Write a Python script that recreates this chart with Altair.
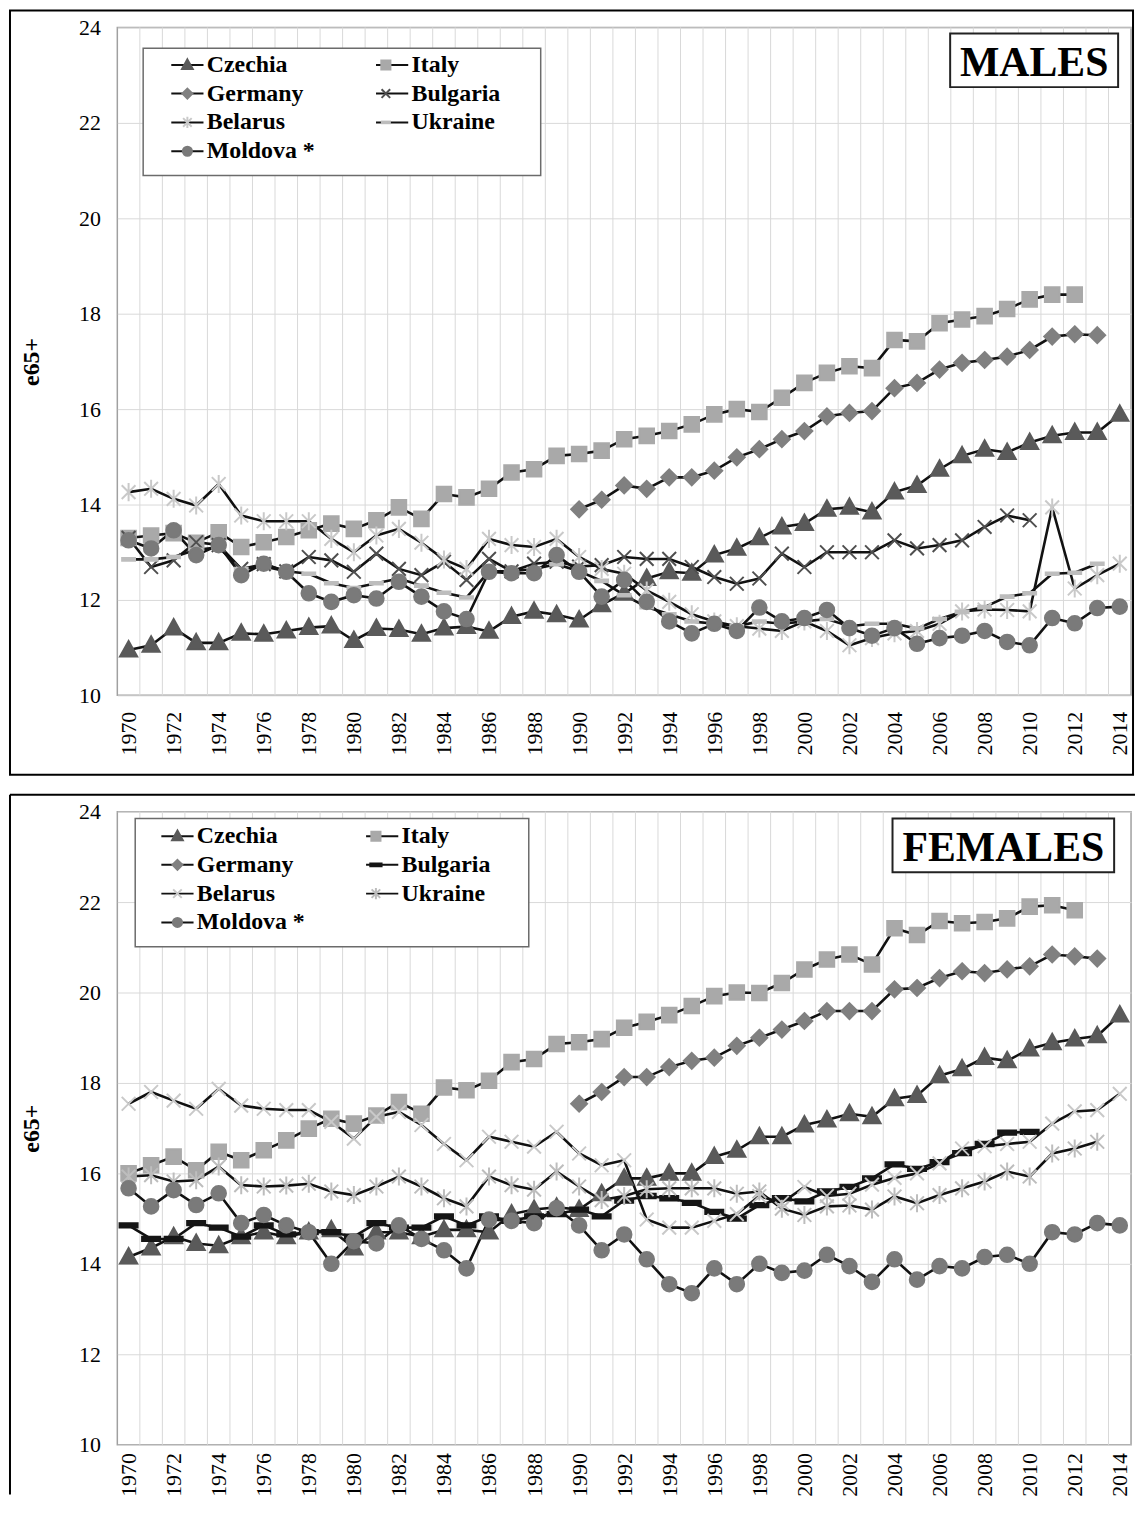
import altair as alt
import pandas as pd

FONT = "Liberation Serif"
SERIES = ["Czechia", "Italy", "Germany", "Bulgaria", "Belarus", "Ukraine", "Moldova *"]
# legend entries fill column by column: left column first, then right column
LEGEND_ORDER = ["Czechia", "Germany", "Belarus", "Moldova *", "Italy", "Bulgaria", "Ukraine"]
Y_TICKS = [10, 12, 14, 16, 18, 20, 22, 24]
X_LABEL_YEARS = list(range(1970, 2015, 2))
GRID_BOUNDS = [y - 0.5 for y in range(1971, 2015)]

# ---------------- MALES (e65+) ----------------
male_start = {"Czechia": 1970, "Italy": 1970, "Germany": 1990, "Bulgaria": 1970,
              "Belarus": 1970, "Ukraine": 1970, "Moldova *": 1970}
male_czechia = [10.95, 11.05, 11.41, 11.1, 11.1, 11.3, 11.28, 11.35, 11.42, 11.45,
                11.15, 11.4, 11.38, 11.28, 11.41, 11.44, 11.34, 11.65, 11.76, 11.69,
                11.58, 11.9, 12.14, 12.45, 12.59, 12.56, 12.94, 13.08, 13.3, 13.53,
                13.6, 13.9, 13.94, 13.84, 14.26, 14.4, 14.74, 15.02, 15.16, 15.09,
                15.3, 15.44, 15.51, 15.51, 15.89]
male_italy = [13.3, 13.35, 13.4, 13.2, 13.42, 13.11, 13.21, 13.32, 13.46, 13.6,
              13.49, 13.67, 13.94, 13.7, 14.22, 14.15, 14.33, 14.67, 14.74, 15.02,
              15.06, 15.13, 15.37, 15.44, 15.54, 15.68, 15.89, 16.0, 15.94, 16.24,
              16.55, 16.76, 16.9, 16.86, 17.45, 17.42, 17.8, 17.88, 17.95, 18.1,
              18.3, 18.4, 18.4]
male_germany = [13.9, 14.1, 14.4, 14.33, 14.57, 14.57, 14.71, 14.99, 15.16, 15.37,
                15.54, 15.85, 15.92, 15.96, 16.44, 16.55, 16.83, 16.97, 17.03, 17.1,
                17.24, 17.52, 17.57, 17.55]
male_bulgaria = [13.3, 12.69, 12.83, 13.21, 13.15, 12.65, 12.75, 12.6, 12.9, 12.83,
                 12.59, 12.97, 12.65, 12.52, 12.8, 12.42, 12.86, 12.6, 12.76, 12.8,
                 12.7, 12.73, 12.9, 12.86, 12.86, 12.69, 12.48, 12.34, 12.45, 12.97,
                 12.69, 13.0, 13.0, 13.0, 13.25, 13.08, 13.15, 13.25, 13.53, 13.77,
                 13.67]
male_belarus = [14.26, 14.33, 14.12, 13.98, 14.43, 13.77, 13.65, 13.65, 13.65, 13.28,
                13.0, 13.35, 13.49, 13.2, 12.85, 12.65, 13.28, 13.15, 13.11, 13.28,
                12.9, 12.65, 12.55, 12.2, 11.96, 11.7, 11.55, 11.45, 11.4, 11.35,
                11.55, 11.35, 11.05, 11.2, 11.3, 11.35, 11.5, 11.76, 11.8, 11.79,
                11.76, 13.94, 12.24, 12.52, 12.76]
male_ukraine = [12.85, 12.85, 12.9, 13.05, 13.1, 12.65, 12.7, 12.6, 12.55, 12.35,
                12.25, 12.35, 12.45, 12.3, 12.15, 12.05, 12.6, 12.6, 12.65, 12.75,
                12.6, 12.4, 12.1, 11.85, 11.7, 11.55, 11.5, 11.45, 11.55, 11.5,
                11.55, 11.6, 11.45, 11.5, 11.5, 11.4, 11.6, 11.75, 11.85, 12.07,
                12.14, 12.55, 12.57, 12.76]
male_moldova = [13.25, 13.08, 13.46, 12.94, 13.15, 12.52, 12.76, 12.59, 12.14, 11.96,
                12.1, 12.03, 12.38, 12.07, 11.76, 11.6, 12.59, 12.56, 12.56, 12.94,
                12.59, 12.07, 12.42, 11.96, 11.55, 11.3, 11.5, 11.35, 11.84, 11.55,
                11.62, 11.79, 11.41, 11.25, 11.41, 11.08, 11.2, 11.25, 11.35, 11.12,
                11.05, 11.62, 11.51, 11.83, 11.86]

# ---------------- FEMALES (e65+) ----------------
female_start = dict(male_start)
female_czechia = [14.15, 14.35, 14.6, 14.45, 14.4, 14.6, 14.7, 14.6, 14.7, 14.75,
                  14.35, 14.7, 14.7, 14.6, 14.75, 14.75, 14.7, 15.1, 15.2, 15.25,
                  15.2, 15.55, 15.89, 15.89, 16.0, 16.0, 16.37, 16.51, 16.81, 16.81,
                  17.07, 17.18, 17.32, 17.25, 17.65, 17.72, 18.16, 18.31, 18.56, 18.49,
                  18.75, 18.89, 18.97, 19.04, 19.5]
female_italy = [16.0, 16.18, 16.37, 16.07, 16.48, 16.29, 16.51, 16.73, 16.99, 17.21,
                17.1, 17.28, 17.58, 17.32, 17.9, 17.84, 18.05, 18.46, 18.53, 18.86,
                18.9, 18.97, 19.22, 19.35, 19.5, 19.7, 19.92, 20.0, 19.99, 20.21,
                20.51, 20.73, 20.84, 20.62, 21.42, 21.27, 21.58, 21.53, 21.56, 21.64,
                21.9, 21.93, 21.82]
female_germany = [17.54, 17.8, 18.13, 18.13, 18.35, 18.49, 18.56, 18.82, 19.0, 19.18,
                  19.37, 19.59, 19.59, 19.59, 20.07, 20.1, 20.32, 20.47, 20.43, 20.51,
                  20.58, 20.84, 20.8, 20.75]
female_bulgaria = [14.85, 14.55, 14.55, 14.9, 14.8, 14.6, 14.85, 14.65, 14.7, 14.7,
                   14.6, 14.9, 14.8, 14.8, 15.05, 14.85, 15.05, 14.95, 15.05, 15.1,
                   15.2, 15.05, 15.4, 15.5, 15.45, 15.35, 15.15, 15.0, 15.3, 15.45,
                   15.38, 15.6, 15.7, 15.89, 16.2, 16.1, 16.25, 16.45, 16.65, 16.9,
                   16.92]
female_belarus = [17.54, 17.8, 17.61, 17.43, 17.87, 17.5, 17.43, 17.4, 17.4, 17.14,
                  16.77, 17.25, 17.36, 17.07, 16.65, 16.29, 16.81, 16.7, 16.59, 16.92,
                  16.44, 16.18, 16.29, 14.98, 14.8, 14.8, 14.95, 15.1, 15.5, 15.35,
                  15.7, 15.5, 15.55, 15.75, 15.9, 16.0, 16.22, 16.55, 16.6, 16.65,
                  16.7, 17.1, 17.37, 17.4, 17.76]
female_ukraine = [15.93, 15.96, 15.82, 15.85, 16.15, 15.74, 15.71, 15.73, 15.77, 15.6,
                  15.52, 15.71, 15.93, 15.71, 15.45, 15.27, 15.93, 15.74, 15.64, 16.04,
                  15.71, 15.41, 15.5, 15.65, 15.67, 15.67, 15.67, 15.55, 15.6, 15.22,
                  15.08, 15.27, 15.29, 15.2, 15.49, 15.34, 15.52, 15.67, 15.82, 16.04,
                  15.93, 16.44, 16.55, 16.7]
female_moldova = [15.67, 15.27, 15.63, 15.3, 15.56, 14.9, 15.08, 14.85, 14.7, 14.0,
                  14.5, 14.45, 14.85, 14.55, 14.3, 13.9, 14.98, 14.95, 14.9, 15.23,
                  14.85, 14.3, 14.65, 14.1, 13.55, 13.35, 13.9, 13.55, 14.0, 13.8,
                  13.85, 14.2, 13.95, 13.6, 14.1, 13.65, 13.95, 13.9, 14.15, 14.2,
                  14.0, 14.7, 14.65, 14.9, 14.85]

male_values = {"Czechia": male_czechia, "Italy": male_italy, "Germany": male_germany,
               "Bulgaria": male_bulgaria, "Belarus": male_belarus, "Ukraine": male_ukraine,
               "Moldova *": male_moldova}
female_values = {"Czechia": female_czechia, "Italy": female_italy, "Germany": female_germany,
                 "Bulgaria": female_bulgaria, "Belarus": female_belarus, "Ukraine": female_ukraine,
                 "Moldova *": female_moldova}

# marker shapes (custom symbol paths)
TRI = "M0,-0.42L0.4,0.3L-0.4,0.3Z"
SQR = "M-0.34,-0.34H0.34V0.34H-0.34Z"
DIA = "M0,-0.37L0.37,0L0,0.37L-0.37,0Z"
CIR = ("M0,-0.34C0.188,-0.34,0.34,-0.188,0.34,0C0.34,0.188,0.188,0.34,0,0.34"
       "C-0.188,0.34,-0.34,0.188,-0.34,0C-0.34,-0.188,-0.188,-0.34,0,-0.34Z")
XM = "M-0.32,-0.32L0.32,0.32M-0.32,0.32L0.32,-0.32"
AST = "M-0.32,-0.32L0.32,0.32M-0.32,0.32L0.32,-0.32M0,-0.42V0.42"
DASH_L = "M-0.3,-0.06H0.3V0.06H-0.3Z"
DASH_B = "M-0.42,-0.1H0.42V0.1H-0.42Z"

male_style = {"Czechia": (TRI, "#5a5a5a"), "Italy": (SQR, "#a9a9a9"), "Germany": (DIA, "#808080"),
              "Bulgaria": (XM, "#4f4f4f"), "Belarus": (AST, "#c9c9c9"), "Ukraine": (DASH_L, "#bdbdbd"),
              "Moldova *": (CIR, "#7a7a7a")}
female_style = {"Czechia": (TRI, "#5a5a5a"), "Italy": (SQR, "#a9a9a9"), "Germany": (DIA, "#808080"),
                "Bulgaria": (DASH_B, "#151515"), "Belarus": (XM, "#c9c9c9"), "Ukraine": (AST, "#bdbdbd"),
                "Moldova *": (CIR, "#7a7a7a")}


def long_df(values, start):
    rows = []
    for name in SERIES:
        for i, v in enumerate(values[name]):
            rows.append({"year": start[name] + i, "value": v, "series": name, "series_m": name})
    return pd.DataFrame(rows)


def one(**kw):
    return alt.Data(values=[kw])


def panel(df, style, label, width, height, lab_pad, leg_xy, leg_box, lbl_box, border_top_only):
    xs = alt.Scale(domain=[1969.5, 2014.5], nice=False, zero=False)
    ys = alt.Scale(domain=[10, 24], nice=False, zero=False)
    xaxis = alt.Axis(values=X_LABEL_YEARS, format="d", grid=False,
                     ticks=False, domain=False,
                     labelAngle=270, labelPadding=lab_pad,
                     labelOverlap=False, labelFlush=False,
                     labelFont=FONT, labelFontSize=22, labelColor="black", title=None)
    yaxis = alt.Axis(values=Y_TICKS, grid=True, gridColor="#d9d9d9", gridWidth=1,
                     ticks=False, domain=False, labelFont=FONT, labelFontSize=22,
                     labelColor="black", labelPadding=17, title="e65+", titleFont=FONT,
                     titleFontSize=24, titleFontWeight="bold", titleColor="black",
                     titlePadding=35)

    common = dict(orient="none", legendX=leg_xy[0], legendY=leg_xy[1], columns=2,
                  title=None, symbolSize=729, symbolStrokeWidth=2, labelFont=FONT,
                  labelFontSize=24, labelFontWeight="bold", labelColor="black",
                  labelOffset=5, rowPadding=2, padding=0, labelLimit=300)
    line_leg = alt.Legend(symbolType="M-1.2,0H1.2", columnPadding=57, **common)
    mark_leg = alt.Legend(labelExpr="''", columnPadding=57 + 108.7, **common)

    shapes = [style[s][0] for s in LEGEND_ORDER]
    colors = [style[s][1] for s in LEGEND_ORDER]

    x = alt.X("year:Q", scale=xs, axis=xaxis)
    y = alt.Y("value:Q", scale=ys, axis=yaxis)

    layers = []
    if border_top_only:
        layers.append(alt.Chart(one(k=1)).mark_rule(color="black", strokeWidth=2).encode(
            x=alt.value(-108), x2=alt.value(width + 4), y=alt.value(-17)))
        layers.append(alt.Chart(one(k=2)).mark_rule(color="black", strokeWidth=2).encode(
            x=alt.value(-108), y=alt.value(-17), y2=alt.value(height + 50)))
    else:
        layers.append(alt.Chart(one(k=1)).mark_rect(fillOpacity=0, stroke="black", strokeWidth=2).encode(
            x=alt.value(-108), x2=alt.value(width + 2), y=alt.value(-17), y2=alt.value(height + 80)))
    # vertical grid lines at the category boundaries
    layers.append(alt.Chart(pd.DataFrame({"b": GRID_BOUNDS})).mark_rule(color="#d9d9d9", strokeWidth=1).encode(
        x=alt.X("b:Q", scale=xs, axis=xaxis)))
    layers.append(alt.Chart(one(k=3)).mark_rect(fill="white", stroke="#6b6b6b", strokeWidth=1.5).encode(
        x=alt.value(leg_box[0]), x2=alt.value(leg_box[1]), y=alt.value(leg_box[2]), y2=alt.value(leg_box[3])))
    layers.append(alt.Chart(one(k=4)).mark_rect(fill="white", stroke="#222222", strokeWidth=2).encode(
        x=alt.value(lbl_box[0]), x2=alt.value(lbl_box[1]), y=alt.value(lbl_box[2]), y2=alt.value(lbl_box[3])))
    layers.append(alt.Chart(pd.DataFrame({"label": [label]})).mark_text(
        font=FONT, fontSize=42, fontWeight="bold", color="black", align="center", baseline="middle").encode(
        x=alt.value((lbl_box[0] + lbl_box[1]) / 2), y=alt.value((lbl_box[2] + lbl_box[3]) / 2 + 3),
        text="label:N"))
    layers.append(alt.Chart(df).mark_line(strokeWidth=2.6).encode(
        x=x, y=y,
        color=alt.Color("series:N", sort=LEGEND_ORDER,
                        scale=alt.Scale(range=["#111111"] * 7), legend=line_leg),
        order="year:Q"))
    layers.append(alt.Chart(df).mark_point(filled=True, size=1866, strokeWidth=2, opacity=1).encode(
        x=x, y=y,
        shape=alt.Shape("series_m:N", scale=alt.Scale(domain=LEGEND_ORDER, range=shapes), legend=mark_leg),
        fill=alt.Fill("series_m:N", scale=alt.Scale(domain=LEGEND_ORDER, range=colors), legend=mark_leg),
        stroke=alt.Stroke("series_m:N", scale=alt.Scale(domain=LEGEND_ORDER, range=colors), legend=mark_leg)))
    return alt.layer(*layers).properties(width=width, height=height)


top = panel(long_df(male_values, male_start), male_style, "MALES",
            1020, 672, 16, (56, 23), (26, 426, 21, 149), (838, 1007, 6, 60), False)
bottom = panel(long_df(female_values, female_start), female_style, "FEMALES",
               1020, 637, 8, (46, 10), (18, 414, 7, 136), (780, 1003, 7, 61), True)

chart = alt.vconcat(top, bottom, spacing=16).resolve_scale(
    x="independent", y="independent", color="independent", fill="independent",
    stroke="independent", shape="independent").resolve_legend(
    color="independent", fill="independent", stroke="independent", shape="independent").configure(
    padding={"left": 0, "top": -4, "right": 0, "bottom": -6}, background="white").configure_view(
    stroke="#a0a0a0", strokeWidth=1.5)

chart.save("out.html", embed_options={"renderer": "svg", "actions": False})
